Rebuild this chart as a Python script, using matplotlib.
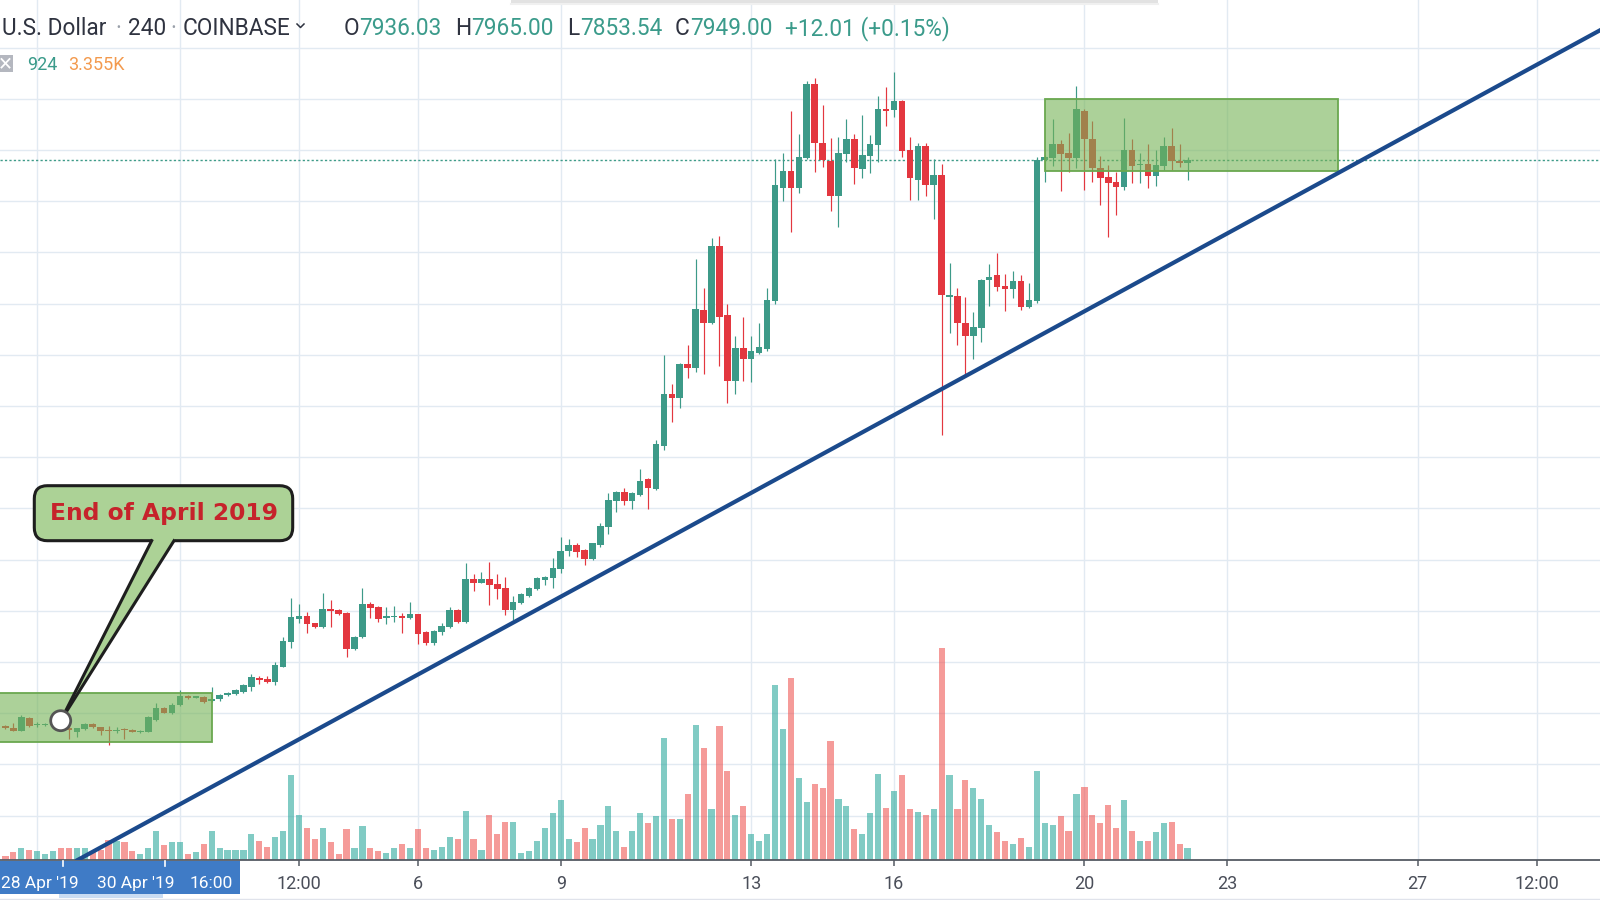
import matplotlib
matplotlib.use("Agg")
import matplotlib.pyplot as plt
import matplotlib.dates as mdates
import matplotlib.transforms as mtransforms
from matplotlib.patches import Rectangle, FancyBboxPatch, Polygon, Circle
from matplotlib.lines import Line2D
import pandas as pd

# ---------------- data (COINBASE BTC/USD, 240 = 4h candles) ----------------
first_candle = "2019-04-27 08:00"

opens = [5187, 5176, 5165, 5225, 5191, 5192, 5193, 5198, 5180, 5160,
         5171, 5197, 5181, 5166, 5161, 5169, 5168, 5158, 5160, 5217,
         5274, 5249, 5290, 5334, 5326, 5331, 5310, 5318, 5339, 5346,
         5355, 5379, 5423, 5418, 5400, 5477, 5599, 5708, 5724, 5688,
         5669, 5758, 5753, 5740, 5563, 5620, 5781, 5770, 5716, 5719,
         5724, 5713, 5732, 5646, 5591, 5648, 5672, 5754, 5697, 5903,
         5887, 5903, 5879, 5859, 5754, 5789, 5822, 5855, 5900, 5911,
         5952, 6042, 6071, 6047, 6004, 6073, 6161, 6288, 6332, 6288,
         6315, 6392, 6344, 6557, 6807, 6787, 6955, 6937, 7218, 7157,
         7531, 7194, 6872, 7034, 6977, 7010, 7026, 7264, 7816, 7899,
         7816, 7959, 8320, 8032, 7946, 7775, 7980, 8056, 7905, 7972,
         8024, 8198, 8195, 8240, 7999, 7853, 8019, 7829, 7877, 7283,
         7286, 7153, 7091, 7133, 7365, 7389, 7335, 7319, 7361, 7234,
         7264, 7951, 7959, 8029, 7983, 7959, 8191, 8056, 7913, 7866,
         7842, 7817, 7999, 7926, 7934, 7874, 7921, 8019, 7947, 7936.03]

highs = [5192, 5204, 5241, 5232, 5209, 5203, 5205, 5200, 5190, 5180,
         5200, 5200, 5184, 5187, 5184, 5176, 5172, 5168, 5236, 5298,
         5278, 5301, 5363, 5338, 5335, 5334, 5380, 5342, 5354, 5368,
         5390, 5441, 5431, 5431, 5501, 5620, 5810, 5781, 5745, 5692,
         5838, 5802, 5758, 5745, 5628, 5859, 5794, 5775, 5770, 5773,
         5737, 5794, 5736, 5650, 5658, 5689, 5767, 5758, 5981, 5929,
         5937, 5986, 5929, 5916, 5824, 5838, 5864, 5916, 5921, 6006,
         6108, 6100, 6082, 6050, 6083, 6177, 6327, 6336, 6348, 6328,
         6441, 6397, 6584, 6999, 6857, 6960, 7047, 7466, 7324, 7568,
         7580, 7246, 7091, 7183, 7091, 7153, 7324, 7954, 7983, 8191,
         8078, 8335, 8350, 8219, 8057, 8065, 8149, 8078, 8170, 8073,
         8263, 8306, 8382, 8244, 8065, 8035, 8035, 7954, 7934, 7446,
         7324, 7280, 7210, 7370, 7443, 7495, 7394, 7410, 7389, 7351,
         7967, 7975, 8149, 8048, 8084, 8312, 8200, 8141, 7970, 7926,
         7894, 8154, 8056, 7983, 8029, 7999, 8061, 8105, 8029, 7965.00]

lows = [5172, 5162, 5162, 5184, 5181, 5188, 5180, 5170, 5122, 5135,
        5168, 5180, 5143, 5095, 5152, 5122, 5157, 5155, 5156, 5212,
        5250, 5245, 5287, 5320, 5322, 5298, 5306, 5311, 5336, 5340,
        5348, 5360, 5391, 5396, 5387, 5474, 5566, 5692, 5640, 5665,
        5665, 5672, 5730, 5526, 5558, 5615, 5713, 5697, 5685, 5697,
        5640, 5710, 5586, 5585, 5585, 5631, 5668, 5692, 5692, 5848,
        5884, 5778, 5806, 5729, 5705, 5784, 5815, 5850, 5876, 5859,
        5936, 6017, 6014, 5973, 6000, 6063, 6123, 6234, 6266, 6245,
        6310, 6245, 6340, 6535, 6670, 6738, 6885, 6917, 6906, 7150,
        6947, 6763, 6807, 6873, 6868, 7005, 7019, 7247, 7752, 7601,
        7788, 7955, 7894, 7918, 7703, 7625, 7943, 7832, 7861, 7889,
        7943, 8118, 8159, 7967, 7755, 7755, 7775, 7661, 6608, 7104,
        7047, 6901, 6977, 7063, 7238, 7312, 7215, 7275, 7221, 7228,
        7254, 7845, 7921, 7801, 7894, 7910, 7804, 7845, 7731, 7576,
        7682, 7804, 7837, 7837, 7812, 7824, 7902, 7902, 7915, 7853.54]

closes = [5176, 5165, 5233, 5187, 5196, 5197, 5198, 5182, 5168, 5176,
          5196, 5184, 5165, 5163, 5168, 5166, 5160, 5161, 5233, 5274,
          5253, 5290, 5334, 5323, 5331, 5306, 5318, 5340, 5350, 5364,
          5386, 5428, 5412, 5400, 5485, 5604, 5718, 5724, 5685, 5669,
          5758, 5749, 5734, 5563, 5623, 5781, 5765, 5710, 5724, 5724,
          5713, 5732, 5636, 5591, 5653, 5675, 5754, 5697, 5903, 5884,
          5903, 5876, 5855, 5754, 5794, 5832, 5859, 5911, 5916, 5957,
          6043, 6071, 6038, 6004, 6079, 6164, 6291, 6332, 6288, 6323,
          6384, 6348, 6564, 6807, 6787, 6955, 6937, 7223, 7157, 7531,
          7186, 6872, 7034, 6977, 7018, 7036, 7267, 7829, 7899, 7816,
          7964, 8320, 8032, 7951, 7775, 7983, 8056, 7910, 7975, 8027,
          8198, 8191, 8240, 7996, 7861, 8019, 7829, 7877, 7291, 7291,
          7156, 7091, 7137, 7365, 7378, 7332, 7319, 7361, 7234, 7267,
          7951, 7967, 8029, 7980, 7959, 8198, 8052, 7910, 7861, 7837,
          7817, 7999, 7921, 7934, 7874, 7926, 8019, 7947, 7936.99, 7949.00]

volumes = [333, 589, 922, 794, 717, 461, 717, 922, 922, 922,
           922, 589, 768, 1562, 1485, 1357, 717, 461, 922, 2253,
           1126, 1357, 1357, 461, 589, 1229, 2253, 922, 794, 794,
           794, 2022, 1485, 1024, 1792, 2253, 6502, 3482, 2458, 1587,
           2458, 1357, 461, 2381, 896, 2586, 922, 717, 563, 922,
           1229, 922, 2355, 922, 794, 1024, 1792, 1587, 3789, 1587,
           794, 3482, 2022, 2918, 2918, 563, 717, 1485, 2458, 3584,
           4608, 1587, 1357, 2458, 1587, 2714, 4147, 2253, 1024, 2253,
           3610, 2816, 3354, 9421, 3149, 3149, 5069, 10419, 8627, 3917,
           10317, 6835, 3482, 4147, 2022, 1485, 2022, 13440, 10086, 13978,
           6298, 4480, 5837, 5504, 9165, 4710, 4147, 2355, 2022, 3610,
           6605, 4019, 5274, 6502, 3917, 3712, 3482, 3917, 16333, 6502,
           3917, 6170, 5504, 4710, 2714, 2150, 1485, 1254, 1690, 1024,
           6835, 2816, 2714, 3379, 2253, 5043, 5606, 3482, 2816, 4250,
           2483, 4608, 2253, 1485, 1485, 2150, 2816, 2918, 1254, 924]

tick_dates = ["2019-05-03 12:00", "2019-05-06", "2019-05-09", "2019-05-13",
              "2019-05-16", "2019-05-20", "2019-05-23", "2019-05-27",
              "2019-05-29 12:00"]
tick_labels = ["12:00", "6", "9", "13", "16", "20", "23", "27", "12:00"]
extra_grid_dates = ["2019-04-28", "2019-05-01"]
price_grid = list(range(4750, 8751, 250))
last_price = 7949.00
vol_ma_label = "3.355K"

# ---------------- styling ----------------
UP = "#3d9a88"
DOWN = "#e3373f"
VOL_UP = (38 / 255, 166 / 255, 154 / 255, 0.58)
VOL_DOWN = (239 / 255, 83 / 255, 80 / 255, 0.58)
GRID = "#e2eaf2"
TEAL_TXT = "#3b9b8b"
DARK_TXT = "#2f3340"
FONT = "Roboto"

times = pd.date_range(first_candle, periods=len(opens), freq="4h")
x = mdates.date2num(times)
px_per_day = 47.6
t_ref = mdates.date2num(pd.Timestamp("2019-05-06"))

fig = plt.figure(figsize=(16, 9), dpi=100, facecolor="white")
rect = [0, 40 / 900, 1, 860 / 900]
axv = fig.add_axes(rect)
ax = fig.add_axes(rect, sharex=axv)
axv.set_zorder(1)
ax.set_zorder(2)
ax.patch.set_visible(False)

ax.set_xlim(t_ref - 418 / px_per_day, t_ref + 1182 / px_per_day)
ax.set_ylim(4533, 8732.4)
axv.set_ylim(0, 860 / 0.013)

# grid (drawn in the lower axes)
for d in extra_grid_dates + tick_dates:
    axv.axvline(mdates.date2num(pd.Timestamp(d)), color=GRID, lw=1.0, zorder=0)
hblend = mtransforms.blended_transform_factory(axv.transAxes, ax.transData)
for p in price_grid:
    axv.add_line(Line2D([0, 1], [p, p], transform=hblend, color=GRID, lw=1.0, zorder=0))

# volume
up = [c >= o for o, c in zip(opens, closes)]
axv.bar(x, volumes, width=6.2 / px_per_day,
        color=[VOL_UP if u else VOL_DOWN for u in up], linewidth=0, zorder=2)

# last price dotted line
ax.axhline(last_price, color=UP, lw=1.0, ls=(0, (1.6, 1.6)), zorder=2)

# candles
cols = [UP if u else DOWN for u in up]
ax.vlines(x, lows, highs, colors=cols, lw=0.85, zorder=3)
bottoms = [min(o, c) for o, c in zip(opens, closes)]
heights = [max(abs(c - o), 6) for o, c in zip(opens, closes)]
ax.bar(x, heights, bottom=bottoms, width=6.6 / px_per_day, color=cols,
       linewidth=0, zorder=4)

# green rectangles (drawings)
rect_fc = (117 / 255, 179 / 255, 85 / 255, 0.6)
for start, end, lo, hi in [("2019-04-26 00:00", "2019-05-01 16:00", 5111, 5347),
                           ("2019-05-19 04:00", "2019-05-25 08:00", 7897, 8248)]:
    x0 = mdates.date2num(pd.Timestamp(start))
    x1 = mdates.date2num(pd.Timestamp(end))
    ax.add_patch(Rectangle((x0, lo), x1 - x0, hi - lo, facecolor=rect_fc,
                           edgecolor="#6aa84f", lw=1.3, zorder=5))

# trend line
ax.axline((mdates.date2num(pd.Timestamp("2019-05-01")), 4805.5),
          (mdates.date2num(pd.Timestamp("2019-05-26")), 7972.4),
          color="#1b4a8c", lw=3.0, zorder=6)

# axes cosmetics
for s in ["top", "left", "right"]:
    ax.spines[s].set_visible(False)
for s in axv.spines.values():
    s.set_visible(False)
ax.spines["bottom"].set_color("#555a63")
ax.spines["bottom"].set_linewidth(1.3)
ax.set_yticks([])
axv.set_yticks([])
ax.set_xticks([mdates.date2num(pd.Timestamp(d)) for d in tick_dates])
ax.set_xticklabels(tick_labels)
for lab in ax.get_xticklabels():
    lab.set_fontfamily(FONT)
    lab.set_fontsize(13)
    lab.set_color("#4a4e59")
ax.tick_params(axis="x", length=4, width=1.1, color="#555a63", pad=6.5)
axv.tick_params(axis="x", bottom=False, labelbottom=False)

# ---------------- overlay in pixel coordinates (y from top) ----------------
T = mtransforms.Affine2D().scale(0.01, -0.01).translate(0, 9) + fig.dpi_scale_trans

def ftext(xp, yp, s, **kw):
    kw.setdefault("family", FONT)
    kw.setdefault("va", "baseline")
    kw.setdefault("ha", "left")
    return fig.text(xp, yp, s, transform=T, zorder=20, **kw)

# top shadow of a toolbar
fig.add_artist(Rectangle((511, -2), 647, 5, transform=T, facecolor="#e2e2e2",
                         edgecolor="none", zorder=19))
fig.add_artist(Line2D([511, 1158], [4, 4], transform=T, color="#f0f0f0", lw=1.5, zorder=19))

# header
hs = 16.3
ftext(2, 35, "U.S. Dollar", fontsize=hs, color=DARK_TXT)
ftext(118, 35, "·", fontsize=hs, color="#9aa0aa", ha="center")
ftext(128, 35, "240", fontsize=hs, color=DARK_TXT)
ftext(173, 35, "·", fontsize=hs, color="#9aa0aa", ha="center")
ftext(183, 35, "COINBASE", fontsize=hs, color=DARK_TXT)
fig.add_artist(Line2D([297, 300.5, 304], [24, 27.5, 24], transform=T,
                      color=DARK_TXT, lw=1.1, zorder=20))
prev_close = closes[-2]
chg = closes[-1] - prev_close
ohlc = [("O", f"{opens[-1]:.2f}", 344, 359), ("H", f"{highs[-1]:.2f}", 455, 471),
        ("L", f"{lows[-1]:.2f}", 567, 580), ("C", f"{closes[-1]:.2f}", 675, 690)]
for letter, val, xl, xv in ohlc:
    ftext(xl, 35, letter, fontsize=hs, color=DARK_TXT)
    ftext(xv, 35, val, fontsize=hs, color=TEAL_TXT)
ftext(785, 35, f"{chg:+.2f} ({chg / prev_close * 100:+.2f}%)", fontsize=hs, color=TEAL_TXT)

# volume legend row
fig.add_artist(Rectangle((-2, 55), 14.5, 16.5, transform=T, facecolor="#b4b7bf",
                         edgecolor="none", zorder=20))
fig.add_artist(Line2D([1.5, 9.5], [59, 67.5], transform=T, color="white", lw=1.3, zorder=21))
fig.add_artist(Line2D([9.5, 1.5], [59, 67.5], transform=T, color="white", lw=1.3, zorder=21))
ftext(27, 70, f"{volumes[-1]}", fontsize=13, color=TEAL_TXT)
ftext(68.5, 70, vol_ma_label, fontsize=13, color="#f39a4e")

# callout
CALL_FC = "#acd296"
CALL_EC = "#1e1e1e"
fig.add_artist(FancyBboxPatch((34.3, 485.7), 258.4, 55,
                              boxstyle="round,pad=0,rounding_size=13", transform=T,
                              facecolor=CALL_FC, edgecolor=CALL_EC, lw=2.2, zorder=12))
tip = (60.7, 720.7)
fig.add_artist(Polygon([(153.6, 537.0), (176.3, 537.0), tip], closed=True, transform=T,
                       facecolor=CALL_FC, edgecolor="none", zorder=13))
fig.add_artist(Line2D([151.7, tip[0]], [540.7, tip[1]], transform=T, color=CALL_EC,
                      lw=2.2, zorder=14))
fig.add_artist(Line2D([174.0, tip[0]], [540.7, tip[1]], transform=T, color=CALL_EC,
                      lw=2.2, zorder=14))
fig.add_artist(Circle(tip, 10, transform=T, facecolor="white", edgecolor="#555555",
                      lw=2.0, zorder=15))
fig.text(164, 520, "End of April 2019", transform=T, ha="center", va="baseline",
         fontsize=16.8, fontweight="bold", color="#c6232b", family="DejaVu Sans", zorder=16)

# selected-drawing time labels on the time axis
fig.add_artist(Rectangle((0, 860.5), 240, 33, transform=T, facecolor="#3f7bc6",
                         edgecolor="none", zorder=18))
for xt in (63, 165):
    fig.add_artist(Line2D([xt, xt], [860.5, 866], transform=T, color="white", lw=1.2, zorder=19))
ftext(1, 888, "28 Apr '19", fontsize=12.5, color="white", ha="left")
ftext(135.5, 888, "30 Apr '19", fontsize=12.5, color="white", ha="center")
ftext(211.5, 888, "16:00", fontsize=12.5, color="white", ha="center")
fig.add_artist(Rectangle((59, 894), 104, 4, transform=T, facecolor="#c9dcf3",
                         edgecolor="none", zorder=18))
fig.add_artist(Line2D([0, 1600], [898.5, 898.5], transform=T, color="#e0e3eb", lw=1.0, zorder=17))

fig.savefig("out.png", dpi=100, facecolor="white")
